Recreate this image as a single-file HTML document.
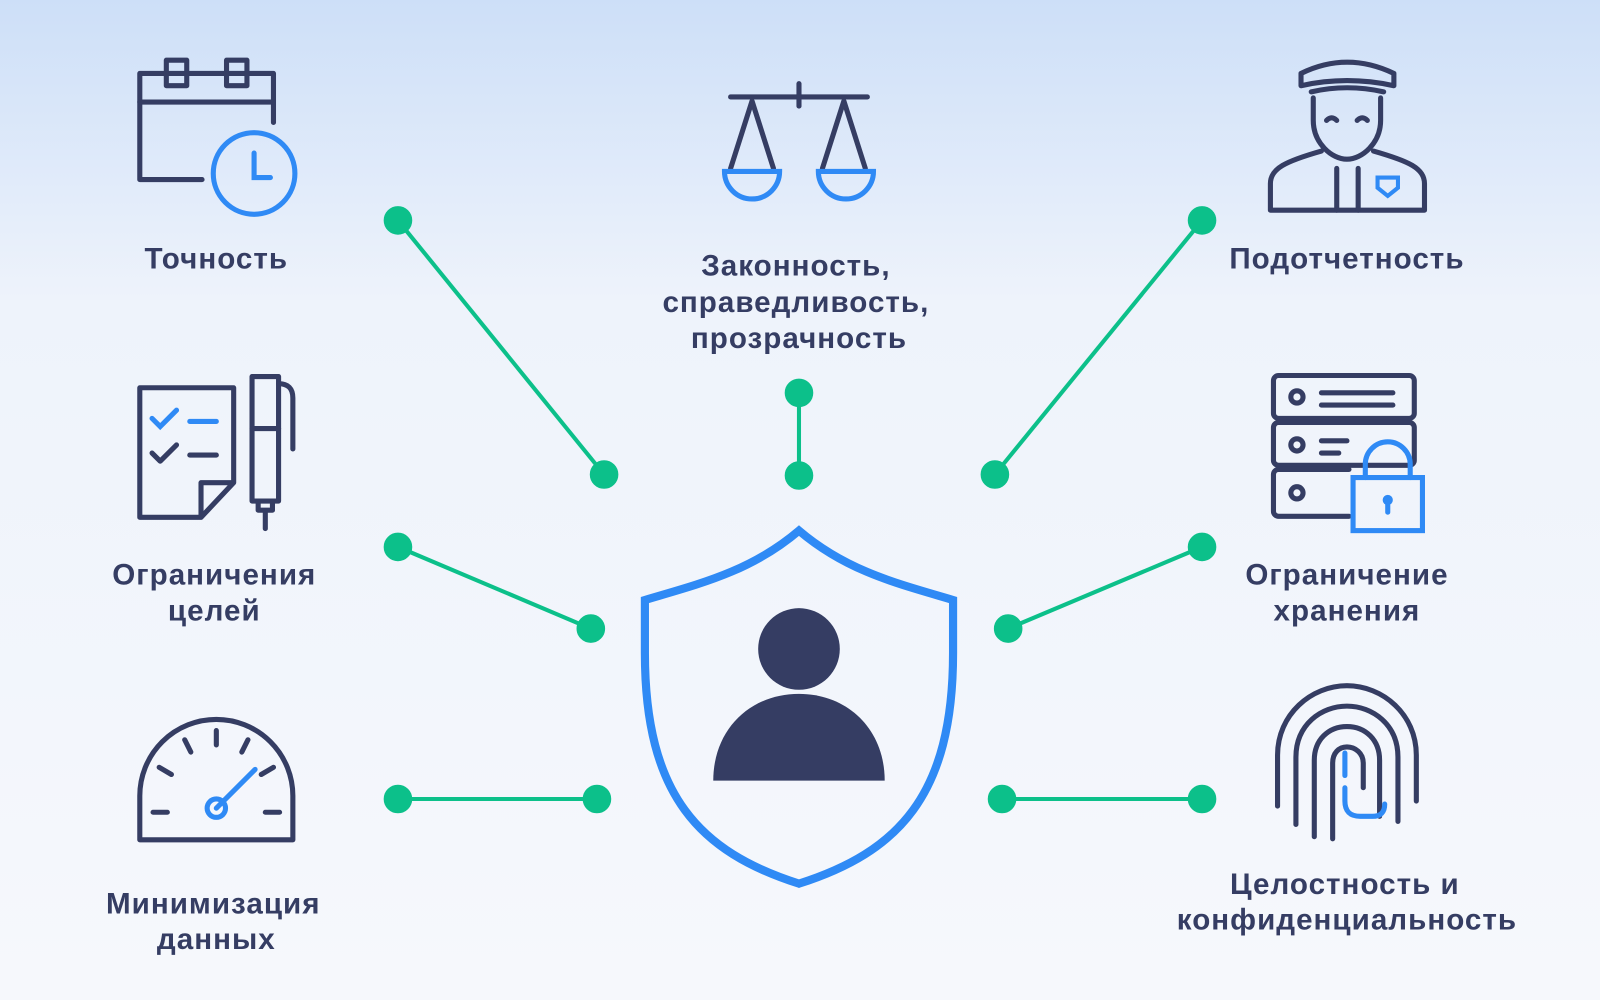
<!DOCTYPE html>
<html><head><meta charset="utf-8"><style>
html,body{margin:0;padding:0;width:1600px;height:1000px;overflow:hidden}
svg{display:block}
text{font-family:"Liberation Sans",sans-serif;font-weight:bold;fill:#353d63;font-size:29px;letter-spacing:1px;text-anchor:middle}
</style></head><body>
<svg width="1600" height="1000" viewBox="0 0 1568 980" preserveAspectRatio="none">
<defs><linearGradient id="bg" x1="0" y1="0" x2="0" y2="1">
<stop offset="0" stop-color="#cddff8"/><stop offset="0.3" stop-color="#eef3fb"/><stop offset="1" stop-color="#f6f8fc"/></linearGradient></defs>
<rect width="1568" height="980" fill="url(#bg)"/>
<g stroke="#0cc08a" stroke-width="4" fill="#0cc08a">
<line x1="390" y1="216" x2="592" y2="465"/><circle cx="390" cy="216" r="12"/><circle cx="592" cy="465" r="12"/>
<line x1="783" y1="385" x2="783" y2="466"/><circle cx="783" cy="385" r="12"/><circle cx="783" cy="466" r="12"/>
<line x1="1178" y1="216" x2="975" y2="465"/><circle cx="1178" cy="216" r="12"/><circle cx="975" cy="465" r="12"/>
<line x1="390" y1="536" x2="579" y2="616"/><circle cx="390" cy="536" r="12"/><circle cx="579" cy="616" r="12"/>
<line x1="1178" y1="536" x2="988" y2="616"/><circle cx="1178" cy="536" r="12"/><circle cx="988" cy="616" r="12"/>
<line x1="390" y1="783" x2="585" y2="783"/><circle cx="390" cy="783" r="12"/><circle cx="585" cy="783" r="12"/>
<line x1="982" y1="783" x2="1178" y2="783"/><circle cx="982" cy="783" r="12"/><circle cx="1178" cy="783" r="12"/>
</g>
<path d="M783 520 C830 560 880 572 934 588 L934 640 C934 780 880 835 783 866 C686 835 632 780 632 640 L632 588 C686 572 736 560 783 520 Z" fill="none" stroke="#2f8af5" stroke-width="8"/>
<circle cx="783" cy="636" r="40" fill="#353d63"/>
<path d="M699 765 C699 715 735 680 783 680 C831 680 867 715 867 765 Z" fill="#353d63"/>
<g fill="none" stroke="#353d63" stroke-width="5" stroke-linejoin="round" stroke-linecap="round">
<path d="M198 176 H137 V72 H268 V120"/><line x1="137" y1="100" x2="268" y2="100"/>
<rect x="163" y="59" width="20" height="25"/><rect x="222" y="59" width="20" height="25"/>
<line x1="716" y1="95" x2="850" y2="95"/><line x1="783" y1="82" x2="783" y2="104"/>
<path d="M716 165 L737 99 L758 165 M806 165 L827 99 L848 165"/>
<path d="M1275 72 Q1320 50 1366 72 L1366 84 Q1320 74 1275 84 Z"/>
<path d="M1285 90 Q1320 82 1356 90"/>
<path d="M1287 96 L1287 118 C1287 140 1305 156 1320 156 C1335 156 1353 140 1353 118 L1353 96"/>
<path d="M1245 206 L1245 180 C1245 165 1260 158 1295 148 M1396 206 L1396 180 C1396 165 1381 158 1346 148 M1245 206 H1396"/>
<path d="M1310 165 V206 M1331 165 V206"/>
<path d="M1300 118 q5 -5 10 0 M1330 118 q5 -5 10 0"/>
<path d="M197 507 H137 V380 H229 V473 L197 507 V473 H229"/>
<path d="M149 444 l8 8 l16 -16"/><line x1="186" y1="446" x2="212" y2="446"/>
<rect x="247" y="369" width="26" height="122"/><line x1="247" y1="420" x2="273" y2="420"/>
<path d="M273 376 q14 0 14 14 V440"/><path d="M253 491 V500 H267 V491 M260 500 V518"/>
<rect x="1248" y="368" width="138" height="42" rx="5"/><rect x="1248" y="414" width="138" height="42" rx="5"/><path d="M1322 506 H1253 a5 5 0 0 1 -5 -5 V465 a5 5 0 0 1 5 -5 H1322"/>
<circle cx="1271" cy="389" r="6"/><circle cx="1271" cy="436" r="6"/><circle cx="1271" cy="483" r="6"/>
<line x1="1295" y1="385" x2="1365" y2="385"/><line x1="1295" y1="397" x2="1365" y2="397"/>
<line x1="1295" y1="432" x2="1320" y2="432"/><line x1="1295" y1="444" x2="1312" y2="444"/>
<path d="M137 823 V780 A75 75 0 0 1 287 780 V823 Z"/>
<path d="M150 796 h14 M260 796 h14 M156 752 l12 7 M268 752 l-12 7 M181 725 l6 12 M243 725 l-6 12 M212 716 v14"/>
<path d="M1252 790 V740 C1252 700 1285 672 1320 672 C1355 672 1388 700 1388 740 V785 M1270 808 V742 C1270 710 1295 692 1320 692 C1345 692 1370 710 1370 742 V805 M1288 820 V745 C1288 725 1302 712 1320 712 C1338 712 1352 725 1352 745 V800 M1306 822 V748 C1306 738 1312 732 1320 732 C1328 732 1336 738 1336 748 V772"/>
</g>
<g fill="none" stroke="#2f8af5" stroke-width="5" stroke-linecap="round">
<circle cx="249" cy="170" r="40"/><path d="M249 150 V174 H265"/>
<path d="M710 168 A27 27 0 0 0 764 168 Z M802 168 A27 27 0 0 0 856 168 Z"/>
<path d="M149 410 l8 8 l16 -16"/><line x1="186" y1="413" x2="212" y2="413"/>
<rect x="1326" y="468" width="68" height="52"/><path d="M1338 468 V455 a22 22 0 0 1 44 0 V468"/><path d="M1360 490 V502"/>
<line x1="212" y1="792" x2="250" y2="754"/><circle cx="212" cy="792" r="9"/>
<path d="M1318 738 V760 M1318 772 V785 q0 15 15 15 h12 q12 0 12 -12"/>
<path d="M1350 174 V184 L1360 192 L1370 184 V174 Z" stroke-width="4"/>
</g>
<circle cx="1360" cy="490" r="5" fill="#2f8af5"/>
<text x="212" y="263">Точность</text>
<text x="780" y="270">Законность,</text><text x="780" y="306">справедливость,</text><text x="783" y="341">прозрачность</text>
<text x="1320" y="263">Подотчетность</text>
<text x="210" y="573">Ограничения</text><text x="210" y="608">целей</text>
<text x="1320" y="573">Ограничение</text><text x="1320" y="608">хранения</text>
<text x="209" y="895">Минимизация</text><text x="212" y="930">данных</text>
<text x="1318" y="876">Целостность и</text><text x="1320" y="911">конфиденциальность</text>
</svg>
</body></html>
